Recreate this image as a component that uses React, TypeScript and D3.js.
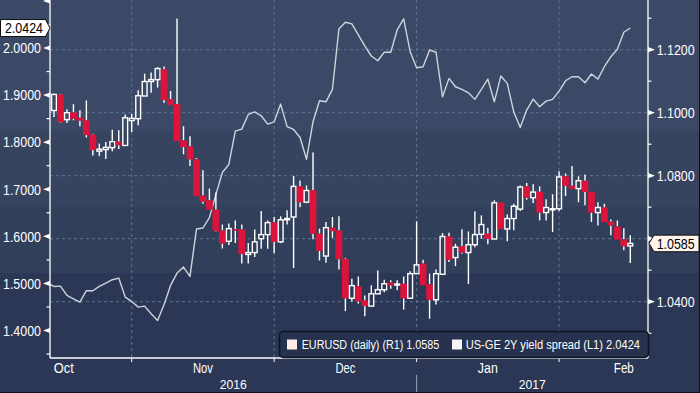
import React from "react";
import * as d3 from "d3";

// EURUSD daily OHLC (right axis R1), one entry per trading day, mid-Oct 2016 .. mid-Feb 2017
const eurOpen = [1.1007,1.1058,1.0978,1.1001,1.0984,1.0976,1.0931,1.0878,1.0883,1.0889,1.0908,1.0896,1.0975,1.0981,1.1053,1.1099,1.1105,1.1138,1.1043,1.1027,1.0912,1.0893,1.0852,1.0737,1.0722,1.0692,1.0626,1.0592,1.0630,1.0629,1.0550,1.0556,1.0600,1.0613,1.0652,1.0590,1.0660,1.0669,1.0766,1.0716,1.0754,1.0616,1.0545,1.0635,1.0626,1.0536,1.0411,1.0449,1.0404,1.0386,1.0425,1.0438,1.0461,1.0454,1.0457,1.0411,1.0489,1.0521,1.0455,1.0406,1.0487,1.0607,1.0540,1.0576,1.0556,1.0581,1.0614,1.0616,1.0599,1.0715,1.0631,1.0664,1.0694,1.0766,1.0730,1.0749,1.0683,1.0693,1.0695,1.0798,1.0768,1.0759,1.0784,1.0749,1.0683,1.0699,1.0654,1.0639,1.0598,1.0577];
const eurHigh = [1.1060,1.1060,1.1011,1.1027,1.1008,1.1039,1.0933,1.0902,1.0907,1.0946,1.0944,1.0994,1.0997,1.1071,1.1124,1.1128,1.1145,1.1147,1.1069,1.1299,1.0957,1.0925,1.0856,1.0817,1.0759,1.0747,1.0645,1.0648,1.0658,1.0645,1.0586,1.0629,1.0688,1.0658,1.0669,1.0671,1.0690,1.0799,1.0785,1.0769,1.0874,1.0632,1.0653,1.0669,1.0671,1.0539,1.0473,1.0480,1.0420,1.0452,1.0499,1.0470,1.0468,1.0468,1.0480,1.0497,1.0655,1.0533,1.0489,1.0502,1.0618,1.0619,1.0584,1.0630,1.0623,1.0687,1.0674,1.0635,1.0722,1.0715,1.0677,1.0711,1.0769,1.0777,1.0773,1.0766,1.0725,1.0741,1.0814,1.0807,1.0831,1.0798,1.0804,1.0749,1.0716,1.0711,1.0661,1.0658,1.0633,1.0611];
const eurLow = [1.0986,1.0968,1.0967,1.0976,1.0957,1.0921,1.0864,1.0862,1.0853,1.0878,1.0885,1.0894,1.0939,1.0960,1.1053,1.1063,1.1080,1.1031,1.1024,1.0910,1.0868,1.0831,1.0735,1.0711,1.0692,1.0622,1.0569,1.0580,1.0586,1.0521,1.0521,1.0542,1.0568,1.0568,1.0554,1.0586,1.0645,1.0507,1.0700,1.0713,1.0598,1.0531,1.0524,1.0603,1.0502,1.0370,1.0401,1.0394,1.0354,1.0386,1.0425,1.0430,1.0441,1.0436,1.0375,1.0411,1.0489,1.0452,1.0346,1.0391,1.0487,1.0526,1.0513,1.0552,1.0456,1.0573,1.0600,1.0582,1.0599,1.0631,1.0592,1.0627,1.0688,1.0724,1.0713,1.0658,1.0658,1.0621,1.0688,1.0735,1.0758,1.0716,1.0706,1.0653,1.0642,1.0653,1.0611,1.0597,1.0563,1.0523];
const eurClose = [1.1058,1.0970,1.1000,1.0980,1.0975,1.0929,1.0882,1.0884,1.0890,1.0908,1.0897,1.0984,1.0982,1.1054,1.1099,1.1105,1.1140,1.1040,1.1024,1.0910,1.0891,1.0852,1.0735,1.0718,1.0692,1.0624,1.0585,1.0632,1.0626,1.0552,1.0556,1.0590,1.0613,1.0651,1.0590,1.0660,1.0664,1.0766,1.0716,1.0753,1.0616,1.0561,1.0635,1.0624,1.0535,1.0411,1.0451,1.0401,1.0386,1.0425,1.0438,1.0457,1.0452,1.0456,1.0411,1.0489,1.0517,1.0452,1.0406,1.0489,1.0607,1.0533,1.0573,1.0556,1.0581,1.0613,1.0645,1.0599,1.0714,1.0631,1.0664,1.0703,1.0764,1.0730,1.0748,1.0683,1.0699,1.0695,1.0796,1.0768,1.0758,1.0784,1.0748,1.0683,1.0699,1.0653,1.0642,1.0597,1.0576,1.0585];

// US-GE 2Y yield spread (left axis L1), starts one trading day before the first candle
const spread = [1.5006,1.4936,1.4943,1.4745,1.4674,1.4602,1.4845,1.4845,1.4936,1.5006,1.5079,1.5113,1.4709,1.4617,1.4496,1.4517,1.4355,1.4213,1.4553,1.4957,1.5219,1.5347,1.5149,1.6155,1.6177,1.6398,1.6887,1.7355,1.7526,1.8234,1.8277,1.8589,1.8645,1.8560,1.8383,1.8432,1.8809,1.8330,1.8270,1.8100,1.7638,1.8432,1.8879,1.8857,1.9121,2.0404,2.0547,2.0511,2.0277,2.0043,1.9830,1.9730,1.9909,1.9909,2.0383,2.0617,1.9921,1.9581,1.9602,1.9957,1.9909,1.8964,1.9355,1.9177,1.9121,1.9049,1.8909,1.9121,1.9340,1.8857,1.9404,1.9249,1.8645,1.8313,1.8681,1.8915,1.8751,1.8872,1.8909,1.9085,1.9304,1.9389,1.9389,1.9262,1.9447,1.9340,1.9602,1.9815,1.9972,2.0334,2.0424];

const leftMajor = [1.4, 1.5, 1.6, 1.7, 1.8, 1.9, 2.0, 2.1];
const leftMinor = [1.35, 1.45, 1.55, 1.65, 1.75, 1.85, 1.95, 2.05];
const rightMajor = [1.04, 1.06, 1.08, 1.10, 1.12];
const rightMinor = [1.03, 1.05, 1.07, 1.09, 1.11, 1.13];
const monthNames = ["Oct", "Nov", "Dec", "Jan", "Feb"];
const monthBounds = [-9, 12, 34, 56, 78, 98]; // trading-day index of month boundaries
const yearNames = ["2016", "2017"];
const lastEur = "1.0585";
const lastSpread = "2.0424";
const legendItems = ["EURUSD (daily) (R1)  1.0585", "US-GE 2Y yield spread (L1)  2.0424"];

const FONT = "'Liberation Sans', Arial, sans-serif";
const RED = "#dc143c";
const GRID = "#5d7595";

export default function App() {
  const L = 50, R = 648, T = 0, B = 358;
  const x = d3.scaleLinear().domain([0, 89]).range([54, 630.3]);
  const yR = d3.scaleLinear().domain([1.04, 1.12]).range([301.7, 49.7]);
  const yL = d3.scaleLinear().domain([1.4, 2.0]).range([330.5, 48]);

  const linePath = d3
    .line<number>()
    .x((_, i) => x(i - 1))
    .y((d) => yL(d))(spread) as string;

  const bands = [
    { y0: 0, y1: 131, c: "#3c4966" },
    { y0: 131, y1: 207, c: "#37445f" },
    { y0: 207, y1: 273, c: "#323f5b" },
    { y0: 273, y1: 393, c: "#2b3755" },
  ];

  const numLen = 38;
  const yLastEur = yR(+lastEur);
  const yLastSpread = yL(+lastSpread);

  return (
    <svg
      width={700}
      height={393}
      style={{ position: "fixed", left: 0, top: 0, display: "block" }}
      xmlns="http://www.w3.org/2000/svg"
    >
      <defs>
        <clipPath id="plot">
          <rect x={L} y={T} width={R - L} height={B - T} />
        </clipPath>
      </defs>
      {bands.map((b, i) => (
        <rect key={i} x={0} y={b.y0} width={700} height={b.y1 - b.y0} fill={b.c} />
      ))}

      {/* grid */}
      {rightMajor.map((v, i) => (
        <line key={"gh" + i} x1={L} x2={R} y1={yR(v)} y2={yR(v)} stroke={GRID} strokeWidth={1} strokeDasharray="3,3" />
      ))}
      {monthBounds.slice(1, 5).map((m, i) => (
        <line key={"gv" + i} x1={x(m)} x2={x(m)} y1={T} y2={B} stroke={GRID} strokeWidth={1} strokeDasharray="3,3" />
      ))}

      {/* spread line */}
      <g clipPath="url(#plot)">
        <path d={linePath} fill="none" stroke="#cfd3dc" strokeWidth={1.4} strokeLinejoin="round" />
      </g>

      {/* candles */}
      <g>
        {eurOpen.map((o, i) => {
          const c = eurClose[i];
          const h = eurHigh[i];
          const l = eurLow[i];
          const cx = x(i);
          const up = c >= o;
          const top = yR(Math.max(o, c));
          const bot = yR(Math.min(o, c));
          const bh = Math.max(bot - top, 1);
          return (
            <g key={i}>
              {yR(h) < top && <line x1={cx} x2={cx} y1={yR(h)} y2={top} stroke="#ffffff" strokeWidth={1.4} />}
              {yR(l) > bot && <line x1={cx} x2={cx} y1={bot} y2={yR(l)} stroke="#ffffff" strokeWidth={1.4} />}
              {up ? (
                <rect x={cx - 2.4} y={top} width={4.8} height={bh} fill="none" stroke="#ffffff" strokeWidth={1.4} />
              ) : (
                <rect x={cx - 3.4} y={top} width={6.8} height={bh} fill={RED} />
              )}
            </g>
          );
        })}
      </g>

      {/* axes lines */}
      <line x1={L} x2={L} y1={T} y2={B} stroke="#ffffff" strokeWidth={1.3} />
      <line x1={R} x2={R} y1={T} y2={B} stroke="#ffffff" strokeWidth={1.3} />
      <line x1={L} x2={R} y1={B} y2={B} stroke="#ffffff" strokeWidth={1.3} />

      {/* left axis */}
      {leftMinor.map((v, i) => (
        <line key={"lm" + i} x1={L - 3.5} x2={L} y1={yL(v)} y2={yL(v)} stroke="#ffffff" strokeWidth={1.2} />
      ))}
      {leftMajor.map((v, i) => (
        <g key={"lM" + i}>
          <polygon points={`${L - 7},${yL(v)} ${L},${yL(v) - 2.6} ${L},${yL(v) + 2.6}`} fill="#ffffff" />
          {v <= 2.0 && Math.abs(yL(v) - yLastSpread) > 16 && (
            <text
              x={41}
              y={yL(v) + 5.3}
              textAnchor="end"
              fill="#ffffff"
              fontFamily={FONT}
              fontSize={14.5}
              textLength={numLen}
              lengthAdjust="spacingAndGlyphs"
            >
              {v.toFixed(4)}
            </text>
          )}
        </g>
      ))}

      {/* right axis */}
      {rightMinor.map((v, i) => (
        <line key={"rm" + i} x1={R} x2={R + 3.5} y1={yR(v)} y2={yR(v)} stroke="#ffffff" strokeWidth={1.2} />
      ))}
      {rightMajor.map((v, i) => (
        <g key={"rM" + i}>
          <polygon points={`${R + 7},${yR(v)} ${R},${yR(v) - 2.6} ${R},${yR(v) + 2.6}`} fill="#ffffff" />
          {Math.abs(yR(v) - yLastEur) > 16 && (
            <text
              x={656.7}
              y={yR(v) + 5.3}
              fill="#ffffff"
              fontFamily={FONT}
              fontSize={14.5}
              textLength={numLen}
              lengthAdjust="spacingAndGlyphs"
            >
              {v.toFixed(4)}
            </text>
          )}
        </g>
      ))}

      {/* bottom axis */}
      {monthBounds.slice(1, 5).map((m, i) => (
        <line key={"bt" + i} x1={x(m)} x2={x(m)} y1={B} y2={B + 4} stroke="#ffffff" strokeWidth={1} />
      ))}
      {monthNames.map((n, i) => (
        <text
          key={"mn" + i}
          x={x((monthBounds[i] + monthBounds[i + 1]) / 2)}
          y={373.3}
          textAnchor="middle"
          fill="#ffffff"
          fontFamily={FONT}
          fontSize={14}
          textLength={20}
          lengthAdjust="spacingAndGlyphs"
        >
          {n}
        </text>
      ))}
      <line x1={x(monthBounds[3])} x2={x(monthBounds[3])} y1={375} y2={393} stroke="#9aa3b5" strokeWidth={1} />
      {yearNames.map((n, i) => {
        const a = i === 0 ? L : x(monthBounds[3]);
        const b = i === 0 ? x(monthBounds[3]) : R;
        return (
          <text
            key={"yr" + i}
            x={(a + b) / 2}
            y={389}
            textAnchor="middle"
            fill="#ffffff"
            fontFamily={FONT}
            fontSize={13.5}
            textLength={27}
            lengthAdjust="spacingAndGlyphs"
          >
            {n}
          </text>
        );
      })}

      {/* legend */}
      <rect x={279.5} y={331.5} width={369} height={26} rx={4} fill="#27324e" stroke="#0b1220" strokeWidth={1.5} />
      <rect x={287} y={339.5} width={10} height={10} fill="#fdecea" />
      <text x={301.7} y={349} fill="#ffffff" fontFamily={FONT} fontSize={12} textLength={137.6} lengthAdjust="spacingAndGlyphs">
        {legendItems[0]}
      </text>
      <rect x={452} y={339.5} width={10} height={10} fill="#f5f5f8" />
      <text x={465.7} y={349} fill="#ffffff" fontFamily={FONT} fontSize={12} textLength={174.3} lengthAdjust="spacingAndGlyphs">
        {legendItems[1]}
      </text>

      {/* last value flags */}
      <g>
        <polygon
          points={`0.5,${yLastSpread - 8.5} 45.5,${yLastSpread - 8.5} 50,${yLastSpread} 45.5,${yLastSpread + 8.5} 0.5,${yLastSpread + 8.5}`}
          fill="#ffffff"
          stroke="#111"
          strokeWidth={1}
        />
        <text x={5} y={yLastSpread + 5.3} fill="#000" fontFamily={FONT} fontSize={14.5} textLength={numLen} lengthAdjust="spacingAndGlyphs">
          {lastSpread}
        </text>
      </g>
      <g>
        <polygon
          points={`${R + 1},${yLastEur} ${R + 6},${yLastEur - 8.3} 699,${yLastEur - 8.3} 699,${yLastEur + 8.3} ${R + 6},${yLastEur + 8.3}`}
          fill="#fff4ec"
          stroke="#111"
          strokeWidth={1}
        />
        <text x={656.7} y={yLastEur + 5.3} fill="#000" fontFamily={FONT} fontSize={14.5} textLength={numLen} lengthAdjust="spacingAndGlyphs">
          {lastEur}
        </text>
      </g>

      {/* outer border */}
      <line x1={0} x2={700} y1={392.5} y2={392.5} stroke="#0a0f1a" strokeWidth={1} />
      <line x1={699.5} x2={699.5} y1={0} y2={393} stroke="#0a0f1a" strokeWidth={1} />
    </svg>
  );
}
